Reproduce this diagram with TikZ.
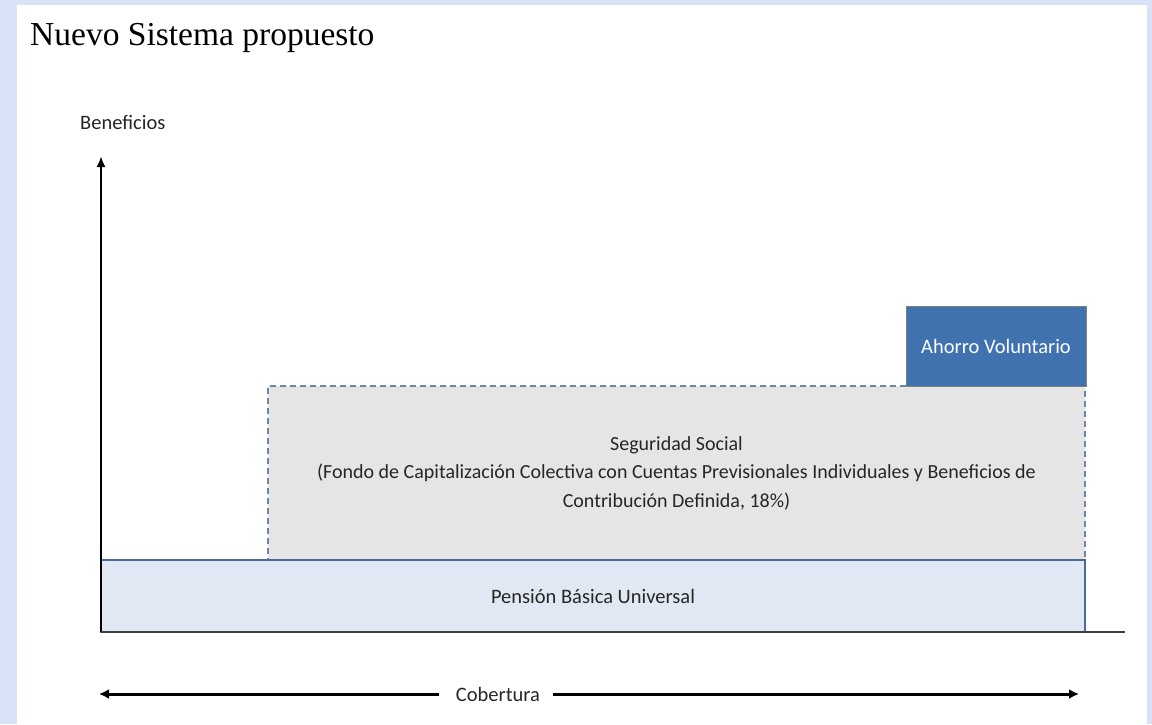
\documentclass[tikz,border=0pt]{standalone}
\usepackage{fontspec}
\setmainfont{Carlito}
\newfontfamily\titlefont{Liberation Serif}
\usetikzlibrary{arrows.meta, positioning}
\definecolor{slideblue}{HTML}{DAE2F8}
\definecolor{pbuBlue}{HTML}{DFE8F3}
\definecolor{pbuLine}{HTML}{4A6A9C}
\definecolor{ssGray}{HTML}{E5E5E5}
\definecolor{ssLine}{HTML}{6B86A8}
\definecolor{avBlue}{HTML}{3F72AF}

\begin{document}
\begin{tikzpicture}[
  x=1pt, y=-1pt,
  box/.style={minimum width=#1, inner sep=0pt, outer sep=0pt, anchor=north west, align=center},
  txt/.style={font=\fontsize{20.5}{28.5}\selectfont, text=black!85},
  axis/.style={line width=2.5pt, -{Latex[length=11pt, width=9pt]}},
  arrow/.style={line width=3pt, -{Latex[length=10pt, width=10pt]}}
]
\useasboundingbox (0,0) rectangle (1152,724);
\fill[slideblue] (0,0) rectangle (1152,724);
\fill[white] (17,5) rectangle (1147,724);

% Nodes
\node[anchor=base west, inner sep=0pt, font=\titlefont\fontsize{33.5}{36}\selectfont] (title) at (30,45) {Nuevo Sistema propuesto};
\node[anchor=west, inner sep=0pt, txt] (ben) at (80,122) {Beneficios};
\node[box=817pt, minimum height=174pt, fill=ssGray, draw=ssLine, line width=1.3pt, dash pattern=on 6pt off 4pt, txt, font=\fontsize{20}{28.5}\selectfont] (ss) at (268,386)
  {Seguridad Social\\(Fondo de Capitalización Colectiva con Cuentas Previsionales Individuales y Beneficios de\\Contribución Definida, 18\%)};
\node[box=984pt, minimum height=72pt, fill=pbuBlue, draw=pbuLine, line width=1.2pt, txt] (pbu) at (101,560) {Pensión Básica Universal};
\node[box=180pt, minimum height=80pt, fill=avBlue, draw=gray, line width=1pt, txt, text=white] (av) at (906,306) {Ahorro Voluntario};
\node[txt, inner sep=0pt] (cob) at (498,694) {Cobertura};
\coordinate (origin) at (101,632);
\coordinate (ytop) at (101,156);
\coordinate (xend) at (1125,632);
\coordinate (cobL) at (99,694);
\coordinate (cobR) at (1079,694);

% Pointers
\draw[axis] (origin) -- (ytop);
\draw[line width=2pt, black!75] (origin) -- (xend);
\draw[arrow] ([xshift=-17pt]cob.west) -- (cobL);
\draw[arrow] ([xshift=13pt]cob.east) -- (cobR);
\end{tikzpicture}
\end{document}
